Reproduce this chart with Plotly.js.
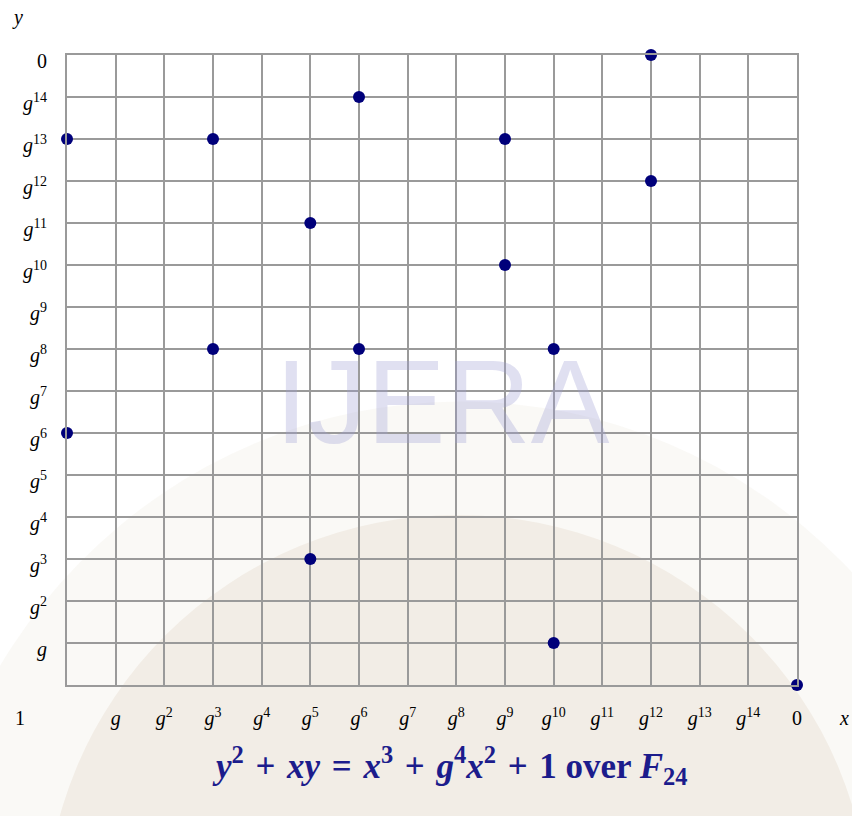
<!DOCTYPE html>
<html>
<head>
<meta charset="utf-8">
<script src="https://cdn.plot.ly/plotly-3.0.1.min.js"></script>
<style>html,body{margin:0;padding:0;background:#fff;}#chart{width:852px;height:816px;}</style>
</head>
<body>
<div id="chart"></div>
<script>
// Field elements of F_{2^4}, in axis order
const elements = ['1','g','g2','g3','g4','g5','g6','g7','g8','g9','g10','g11','g12','g13','g14','0'];
const xTickText = ['', '<i>g</i>','<i>g</i><sup>2</sup>','<i>g</i><sup>3</sup>','<i>g</i><sup>4</sup>','<i>g</i><sup>5</sup>','<i>g</i><sup>6</sup>','<i>g</i><sup>7</sup>','<i>g</i><sup>8</sup>','<i>g</i><sup>9</sup>','<i>g</i><sup>10</sup>','<i>g</i><sup>11</sup>','<i>g</i><sup>12</sup>','<i>g</i><sup>13</sup>','<i>g</i><sup>14</sup>','0'];
const yTickText = xTickText;

// Points on y^2 + xy = x^3 + g^4 x^2 + 1
const pointX = ['1','1','g3','g3','g5','g5','g6','g6','g9','g9','g10','g10','g12','g12','0'];
const pointY = ['g13','g6','g13','g8','g11','g3','g14','g8','g13','g10','g8','g','0','g12','1'];

const navy = '#00007a';
const gridColor = '#9a9a9a';
const tickFont = {family: '"Liberation Serif", "DejaVu Serif", serif', size: 20, color: '#000'};

const trace = {
  type: 'scatter', mode: 'markers',
  x: pointX, y: pointY,
  marker: {color: navy, size: 12},
  cliponaxis: false, hoverinfo: 'skip'
};

const axisCommon = {
  type: 'category',
  categoryorder: 'array',
  categoryarray: elements,
  tickvals: elements,
  range: [0, 15],
  showgrid: true, gridcolor: gridColor, gridwidth: 2,
  showline: true, linecolor: gridColor, linewidth: 2, mirror: true,
  zeroline: false, ticks: '', tickfont: tickFont,
  fixedrange: true
};

const sp = '\u2004';
const titleText = '<b><i>y</i><sup>2</sup>' + sp + '+' + sp + '<i>xy</i>' + sp + '=' + sp +
  '<i>x</i><sup>3</sup>' + sp + '+' + sp + '<i>g</i><sup>4</sup><i>x</i><sup>2</sup>' + sp + '+' + sp +
  '1 over <i>F</i><sub>2</sub><sub>4</sub></b>';

const layout = {
  width: 852, height: 816,
  margin: {l: 67, r: 55, t: 55, b: 131},
  paper_bgcolor: '#ffffff', plot_bgcolor: 'rgba(0,0,0,0)',
  showlegend: false,
  xaxis: Object.assign({}, axisCommon, {ticktext: xTickText, ticklabelstandoff: 14}),
  yaxis: Object.assign({}, axisCommon, {ticktext: yTickText, ticklabelstandoff: 14, ticklabelshift: 6}),
  shapes: [
    {type: 'circle', xref: 'paper', yref: 'paper', layer: 'below',
     x0: -0.20, x1: 1.28, y0: -1.30, y1: 0.45,
     fillcolor: 'rgba(210,195,170,0.10)', line: {width: 0}},
    {type: 'circle', xref: 'paper', yref: 'paper', layer: 'below',
     x0: -0.03, x1: 1.10, y0: -1.03, y1: 0.27,
     fillcolor: 'rgba(190,160,120,0.13)', line: {width: 0}}
  ],
  annotations: [
    {text: 'IJERA', xref: 'paper', yref: 'paper', x: (442-67)/730, y: (685-402)/630,
     showarrow: false, xanchor: 'center', yanchor: 'middle',
     font: {family: '"Liberation Sans", Arial, sans-serif', size: 118, color: 'rgba(160,160,210,0.32)'}},
    {text: '<i>y</i>', xref: 'paper', yref: 'paper', x: (10-67)/730, y: (685-18)/630,
     showarrow: false, xanchor: 'left', yanchor: 'middle',
     font: {family: '"Liberation Serif", serif', size: 20, color: '#000'}},
    {text: '1', xref: 'paper', yref: 'paper', x: (20-67)/730, y: (685-718)/630,
     showarrow: false, xanchor: 'center', yanchor: 'middle',
     font: {family: '"Liberation Serif", serif', size: 20, color: '#000'}},
    {text: '<i>x</i>', xref: 'paper', yref: 'paper', x: (851-67)/730, y: (685-718)/630,
     showarrow: false, xanchor: 'right', yanchor: 'middle',
     font: {family: '"Liberation Serif", serif', size: 20, color: '#000'}},
    {text: titleText,
     xref: 'paper', yref: 'paper', x: (450-67)/730, y: (685-765)/630,
     showarrow: false, xanchor: 'center', yanchor: 'middle',
     font: {family: '"Liberation Serif", "DejaVu Serif", serif', size: 35, color: '#1c1c8c'}}
  ]
};

Plotly.newPlot('chart', [trace], layout, {staticPlot: true, displayModeBar: false});
</script>
</body>
</html>
